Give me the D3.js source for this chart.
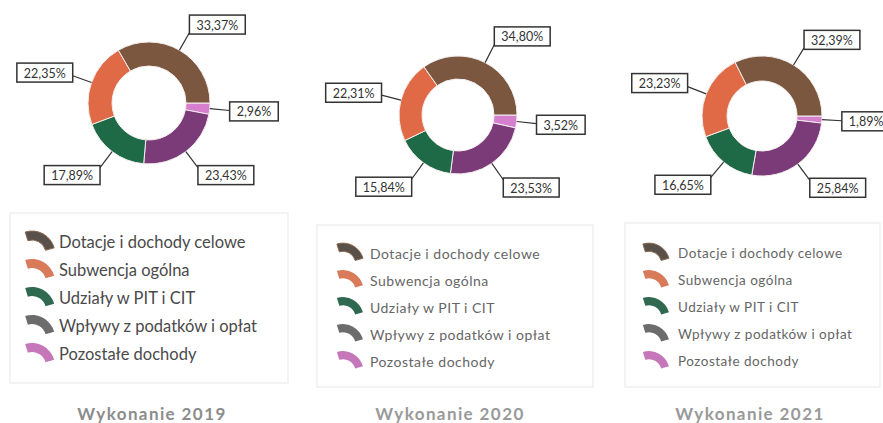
<!DOCTYPE html>
<html>
<head>
<meta charset="utf-8">
<script src="https://cdn.jsdelivr.net/npm/d3@7.9.0/dist/d3.min.js"></script>
<style>
  body { margin: 0; background: #fff; }
  svg { display: block; }
  text { font-family: Lato, "Open Sans", sans-serif; }
</style>
</head>
<body>
<svg id="chart" width="883" height="423"></svg>
<script>
// Categories and shares (%)
const categories = [
  'Dotacje i dochody celowe',
  'Subwencja ogólna',
  'Udziały w PIT i CIT',
  'Wpływy z podatków i opłat',
  'Pozostałe dochody'
];
const years = ['2019', '2020', '2021'];
const values2019 = [33.37, 22.35, 17.89, 23.43, 2.96];
const values2020 = [34.80, 22.31, 15.84, 23.53, 3.52];
const values2021 = [32.39, 23.23, 16.65, 25.84, 1.89];
const allValues = [values2019, values2020, values2021];

// Slice colours and the (slightly different) legend icon colours
const sliceColors = ['#7b573f', '#e06a45', '#1e6a46', '#7b3a78', '#d57fce'];
const legendColors = ['#5a504a', '#d97a5a', '#2f6a50', '#6c6c6c', '#c677ba'];

// Panel layout
const panels = [
  { cx: 149, cy: 103, R: 61, r: 37, lx: 10, ly: 213, lw: 278, lh: 170, iy: 242, step: 28, ix: 32, k: 1, tx: 59, fs: 16.5, ls: 0, tc: '#4a4a4a', titleX: 152, titleC: '#8c8c8c' },
  { cx: 458, cy: 115, R: 59, r: 36, lx: 317, ly: 225, lw: 276, lh: 162, iy: 253, step: 27, ix: 343, k: 0.9, tx: 370, fs: 14, ls: 0.5, tc: '#666', titleX: 450, titleC: '#999' },
  { cx: 762, cy: 116, R: 60, r: 35, lx: 625, ly: 223, lw: 255, lh: 164, iy: 253, step: 27, ix: 649, k: 0.9, tx: 678, fs: 13.5, ls: 0.5, tc: '#666', titleX: 750, titleC: '#999' }
];

const svg = d3.select('#chart');

// Slices go clockwise from 3 o'clock, ending with the first category
const drawOrder = [4, 3, 2, 1, 0];
const pie = d3.pie()
  .sort(null)
  .value(i => i.v)
  .startAngle(Math.PI / 2)
  .endAngle(Math.PI / 2 + 2 * Math.PI);

const fmt = v => v.toFixed(2).replace('.', ',') + '%';

panels.forEach((p, k) => {
  const values = allValues[k];
  const g = svg.append('g');
  const donut = g.append('g').attr('transform', `translate(${p.cx},${p.cy})`);

  const arcs = pie(drawOrder.map(i => ({ i, v: values[i] })));
  const arc = d3.arc().innerRadius(p.r).outerRadius(p.R);

  donut.selectAll('path')
    .data(arcs)
    .join('path')
    .attr('d', arc)
    .attr('fill', d => sliceColors[d.data.i])
    .attr('stroke', '#f3eeee')
    .attr('stroke-width', 1);

  // Data labels with leader lines
  arcs.forEach(d => {
    const mid = (d.startAngle + d.endAngle) / 2;
    const s = Math.sin(mid), c = Math.cos(mid);
    const x0 = p.R * s, y0 = -p.R * c;
    const ax = (p.R + 20) * s, ay = -(p.R + 20) * c;

    donut.append('line')
      .attr('x1', x0).attr('y1', y0)
      .attr('x2', ax).attr('y2', ay)
      .attr('stroke', '#333')
      .attr('stroke-width', 1.2);

    const lab = donut.append('g');
    const t = lab.append('text')
      .attr('font-size', 12.5)
      .attr('fill', '#333')
      .attr('text-anchor', 'middle')
      .attr('dominant-baseline', 'central')
      .text(fmt(d.data.v));
    const w = t.node().getComputedTextLength() + 14;
    const h = 19;
    const bx = ax + Math.sign(s) * w / 2;
    const by = ay - c * h / 2;
    lab.insert('rect', 'text')
      .attr('x', bx - w / 2).attr('y', by - h / 2)
      .attr('width', w).attr('height', h)
      .attr('fill', '#fff')
      .attr('stroke', '#333')
      .attr('stroke-width', 1.5);
    t.attr('x', bx).attr('y', by + 0.5);
  });

  // Legend
  g.append('rect')
    .attr('x', p.lx).attr('y', p.ly)
    .attr('width', p.lw).attr('height', p.lh)
    .attr('fill', '#fff')
    .attr('stroke', '#ebebeb')
    .attr('stroke-width', 1.2);

  const icon = d3.arc()
    .innerRadius(14 * p.k).outerRadius(23 * p.k)
    .startAngle(-0.3).endAngle(1.3);
  categories.forEach((name, i) => {
    const y = p.iy + i * p.step;
    g.append('path')
      .attr('d', icon)
      .attr('transform', `translate(${p.ix},${y + 12 * p.k})`)
      .attr('fill', legendColors[i])
      .attr('stroke', i === 0 ? '#8a6a52' : 'none')
      .attr('stroke-width', 1);
    g.append('text')
      .attr('x', p.tx).attr('y', y)
      .attr('dominant-baseline', 'central')
      .attr('font-size', p.fs)
      .attr('letter-spacing', p.ls)
      .attr('fill', p.tc)
      .text(name);
  });

  // Title
  g.append('text')
    .attr('x', p.titleX).attr('y', 413)
    .attr('text-anchor', 'middle')
    .attr('dominant-baseline', 'central')
    .attr('font-family', '"Liberation Sans", Arial, sans-serif')
    .attr('font-weight', 'bold')
    .attr('font-size', 17)
    .attr('letter-spacing', 1.4)
    .attr('fill', p.titleC)
    .text('Wykonanie ' + years[k]);
});
</script>
</body>
</html>
